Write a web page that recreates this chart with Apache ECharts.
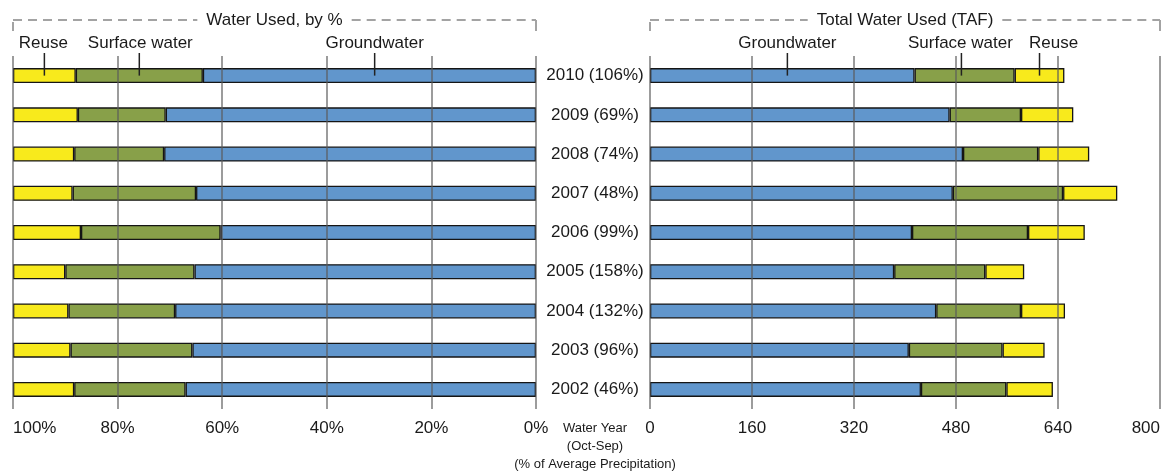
<!DOCTYPE html>
<html>
<head>
<meta charset="utf-8">
<script src="https://cdn.jsdelivr.net/npm/echarts@6/dist/echarts.min.js"></script>
<style>
html,body{margin:0;padding:0;background:#fff;}
#chart{width:1164px;height:475px;}
</style>
</head>
<body>
<div id="chart"></div>
<script>
// ---- data ----
const years = ['2010','2009','2008','2007','2006','2005','2004','2003','2002'];
const precipPct = ['106%','69%','74%','48%','99%','158%','132%','96%','46%'];

// Water used, by % (left panel)
const pctReuse   = [12.0,12.4,11.7,11.4,13.0,10.0,10.6,11.0,11.7];
const pctSurface = [24.3,16.8,17.2,23.6,26.7,24.7,20.4,23.3,21.3];
const pctGround  = [63.7,70.8,71.1,65.0,60.3,65.3,69.0,65.7,67.0];

// Total water used, TAF (right panel)
const tafGround  = [415,470,491,475,411,383,449,406,425];
const tafSurface = [157,112,118,173,182,143,133,147,134];
const tafReuse   = [78,82,80,85,89,61,69,66,73];

const pctTicks = [0,20,40,60,80,100];
const tafTicks = [0,160,320,480,640,800];

const categories = years.map((y,i)=> y + ' (' + precipPct[i] + ')');

// ---- style ----
const FONT = "'Liberation Sans', Arial, Helvetica, sans-serif";
const TXT = '#1a1a1a';
const C_REUSE = '#F8EA1C';
const C_SURF = '#88A049';
const C_GROUND = '#6196CC';
const GRIDC = 'rgba(90,90,90,0.6)';

const chart = echarts.init(document.getElementById('chart'), null, {renderer:'canvas'});

function barSeries(name, data, color, xi, stack){
  return {
    type:'bar', name:name, data:data, stack:stack,
    xAxisIndex:xi, yAxisIndex:xi, barWidth:15,
    itemStyle:{color:color, borderColor:'#151515', borderWidth:1.3},
    emphasis:{disabled:true}, z:2
  };
}

const option = {
  animation:false,
  textStyle:{fontFamily:FONT},
  grid:[
    {left:13, right:1164-536, top:56, height:353, containLabel:false},
    {left:650, right:1164-1160, top:56, height:353, containLabel:false}
  ],
  xAxis:[
    {type:'value', gridIndex:0, inverse:true, min:pctTicks[0], max:pctTicks[pctTicks.length-1], interval:pctTicks[1]-pctTicks[0],
     z:3,
     axisLine:{show:false}, axisTick:{show:false},
     splitLine:{show:true, lineStyle:{color:GRIDC, width:2}},
     axisLabel:{formatter:'{value}%', color:TXT, fontSize:17, fontFamily:FONT, margin:11, alignMaxLabel:'left'}},
    {type:'value', gridIndex:1, min:tafTicks[0], max:tafTicks[tafTicks.length-1], interval:tafTicks[1]-tafTicks[0],
     z:3,
     axisLine:{show:false}, axisTick:{show:false},
     splitLine:{show:true, lineStyle:{color:GRIDC, width:2}},
     axisLabel:{color:TXT, fontSize:17, fontFamily:FONT, margin:11, alignMaxLabel:'right'}}
  ],
  yAxis:[
    {type:'category', gridIndex:0, data:categories, inverse:true, position:'right',
     axisLine:{show:false}, axisTick:{show:false}, splitLine:{show:false},
     axisLabel:{color:TXT, fontSize:17, fontFamily:FONT, margin:59, align:'center'}},
    {type:'category', gridIndex:1, data:categories, inverse:true,
     axisLine:{show:false}, axisTick:{show:false}, splitLine:{show:false},
     axisLabel:{show:false}}
  ],
  series:[
    barSeries('Groundwater', pctGround, C_GROUND, 0, 'pct'),
    barSeries('Surface water', pctSurface, C_SURF, 0, 'pct'),
    barSeries('Reuse', pctReuse, C_REUSE, 0, 'pct'),
    barSeries('Groundwater', tafGround, C_GROUND, 1, 'taf'),
    barSeries('Surface water', tafSurface, C_SURF, 1, 'taf'),
    barSeries('Reuse', tafReuse, C_REUSE, 1, 'taf')
  ]
};
chart.setOption(option);

// ---- annotations (positions from the chart's own scales) ----
const measCanvas = document.createElement('canvas').getContext('2d');
function textWidth(t, size){ measCanvas.font = size + 'px ' + FONT; return measCanvas.measureText(t).width; }

const graphics = [];
const DASH = {stroke:'#a3a3a3', lineWidth:2, lineDash:[9,6]};
function bracket(gridIndex, vMin, vMax, title){
  const yCat = categories[0];
  const pA = chart.convertToPixel({gridIndex:gridIndex}, [vMin, yCat]);
  const pB = chart.convertToPixel({gridIndex:gridIndex}, [vMax, yCat]);
  const xl = Math.min(pA[0], pB[0]), xr = Math.max(pA[0], pB[0]);
  const y = 20, yEnd = 31;
  const cx = (xl + xr) / 2;
  const half = textWidth(title, 17) / 2 + 9;
  graphics.push({type:'line', shape:{x1:xl, y1:yEnd, x2:xl, y2:y}, style:DASH, silent:true});
  graphics.push({type:'line', shape:{x1:xl, y1:y, x2:cx-half, y2:y}, style:DASH, silent:true});
  graphics.push({type:'line', shape:{x1:cx+half, y1:y, x2:xr, y2:y}, style:DASH, silent:true});
  graphics.push({type:'line', shape:{x1:xr, y1:y, x2:xr, y2:yEnd}, style:{stroke:'#a3a3a3', lineWidth:2}, silent:true});
  graphics.push({type:'text', x:cx, y:y, silent:true,
    style:{text:title, fill:TXT, font:'17px ' + FONT, textAlign:'center', textVerticalAlign:'middle'}});
}
bracket(0, pctTicks[pctTicks.length-1], pctTicks[0], 'Water Used, by %');
bracket(1, tafTicks[0], tafTicks[tafTicks.length-1], 'Total Water Used (TAF)');

function leader(gridIndex, vCenter, label, dxLabel){
  const p = chart.convertToPixel({gridIndex:gridIndex}, [vCenter, categories[0]]);
  graphics.push({type:'line', shape:{x1:p[0], y1:53, x2:p[0], y2:p[1]}, style:{stroke:'#222', lineWidth:1.5}, silent:true, z:10});
  graphics.push({type:'text', x:p[0] + dxLabel, y:43, silent:true,
    style:{text:label, fill:TXT, font:'17px ' + FONT, textAlign:'center', textVerticalAlign:'middle'}});
}
// left panel, first row
const lg = pctGround[0], ls = pctSurface[0], lr = pctReuse[0];
leader(0, lg + ls + lr / 2, 'Reuse', -1);
leader(0, lg + ls / 2, 'Surface water', 1);
leader(0, lg / 2 - 1, 'Groundwater', 0);
// right panel, first row
const rg = tafGround[0], rs = tafSurface[0], rr = tafReuse[0];
leader(1, rg / 2 + 8, 'Groundwater', 0);
leader(1, rg + rs / 2 - 5, 'Surface water', -1);
leader(1, rg + rs + rr / 2, 'Reuse', 14);

// axis-title note between the panels
const midL = chart.convertToPixel({gridIndex:0}, [pctTicks[0], categories[0]])[0];
const midR = chart.convertToPixel({gridIndex:1}, [tafTicks[0], categories[0]])[0];
graphics.push({type:'text', x:(midL + midR) / 2 + 2, y:419, silent:true,
  style:{text:'Water Year\n(Oct-Sep)\n(% of Average Precipitation)', fill:TXT, font:'13px ' + FONT,
         textAlign:'center', textVerticalAlign:'top', lineHeight:18}});

chart.setOption({graphic:graphics});
</script>
</body>
</html>
